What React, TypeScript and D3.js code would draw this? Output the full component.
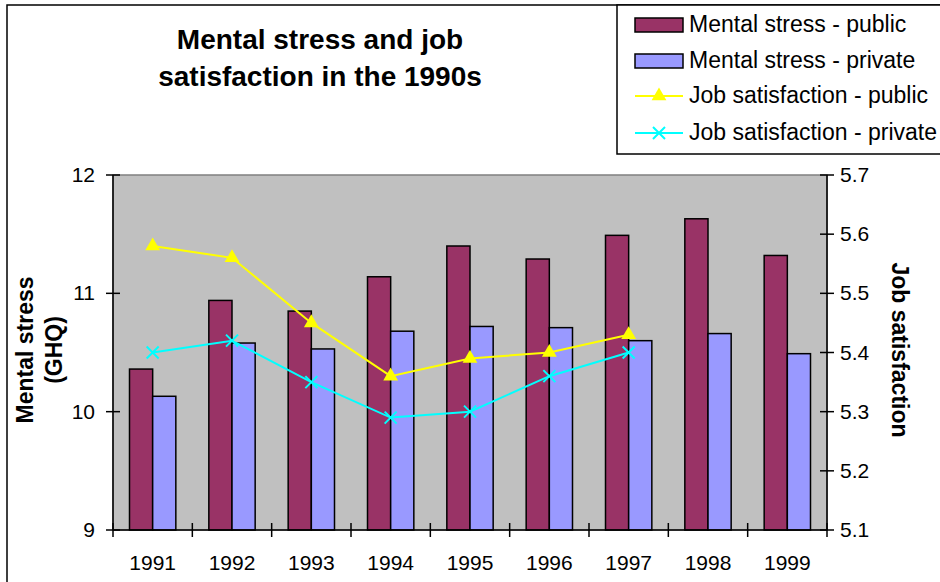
import React from "react";
import * as d3 from "d3";

const years = ["1991", "1992", "1993", "1994", "1995", "1996", "1997", "1998", "1999"];
const stressPublic = [10.36, 10.94, 10.85, 11.14, 11.4, 11.29, 11.49, 11.63, 11.32];
const stressPrivate = [10.13, 10.58, 10.53, 10.68, 10.72, 10.71, 10.6, 10.66, 10.49];
const jobYears = ["1991", "1992", "1993", "1994", "1995", "1996", "1997"];
const jobPublic = [5.58, 5.56, 5.45, 5.36, 5.39, 5.4, 5.43];
const jobPrivate = [5.4, 5.42, 5.35, 5.29, 5.3, 5.36, 5.4];
const leftTicks = [9, 10, 11, 12];
const rightTicks = [5.1, 5.2, 5.3, 5.4, 5.5, 5.6, 5.7];
const seriesNames = ["Mental stress - public", "Mental stress - private", "Job satisfaction - public", "Job satisfaction - private"];

const W = 940;
const H = 582;
const plot = { left: 113, right: 827, top: 175, bottom: 530 };
const FONT = "'Liberation Sans', Arial, sans-serif";
const C_PUB = "#993366";
const C_PRI = "#9999FF";
const C_YEL = "#FFFF00";
const C_CYA = "#00FFFF";

function xMark(cx: number, cy: number, r: number) {
  return `M${cx - r},${cy - r}L${cx + r},${cy + r}M${cx - r},${cy + r}L${cx + r},${cy - r}`;
}

export default function App() {
  const x0 = d3.scaleBand<string>().domain(years).range([plot.left, plot.right]).padding(0);
  const bw = x0.bandwidth();
  const x1 = d3.scaleBand<string>().domain(["pub", "pri"]).range([bw * 0.208, bw * 0.792]).padding(0);
  const yL = d3.scaleLinear().domain([9, 12]).range([plot.bottom, plot.top]);
  const yR = d3.scaleLinear().domain([5.1, 5.7]).range([plot.bottom, plot.top]);
  const cx = (yr: string) => (x0(yr) as number) + bw / 2;

  const line = d3
    .line<[string, number]>()
    .x((d) => cx(d[0]))
    .y((d) => yR(d[1]));
  const pubPts: [string, number][] = jobYears.map((y, i) => [y, jobPublic[i]]);
  const priPts: [string, number][] = jobYears.map((y, i) => [y, jobPrivate[i]]);
  const tri = d3.symbol().type(d3.symbolTriangle).size(95);

  const boundaries = d3.range(years.length + 1).map((i) => plot.left + i * bw);

  const legendX = 635;
  const legendRows = [25, 61, 96, 133];

  return (
    <svg width={W} height={H} style={{ position: "absolute", left: 0, top: 0, background: "#fff" }} fontFamily={FONT}>
      {/* outer border */}
      <rect x={7} y={5} width={W + 20} height={H + 20} fill="#fff" stroke="#000" strokeWidth={1.5} />

      {/* title */}
      <text x={320} y={49} textAnchor="middle" fontSize={28} fontWeight="bold">Mental stress and job</text>
      <text x={320} y={86} textAnchor="middle" fontSize={28} fontWeight="bold">satisfaction in the 1990s</text>

      {/* plot background */}
      <rect x={plot.left} y={plot.top} width={plot.right - plot.left} height={plot.bottom - plot.top} fill="#C0C0C0" stroke="#808080" strokeWidth={1.5} />

      {/* bars */}
      {years.map((yr, i) => (
        <g key={yr}>
          <rect x={(x0(yr) as number) + (x1("pub") as number)} y={yL(stressPublic[i])} width={x1.bandwidth()} height={yL(9) - yL(stressPublic[i])} fill={C_PUB} stroke="#000" strokeWidth={1.5} />
          <rect x={(x0(yr) as number) + (x1("pri") as number)} y={yL(stressPrivate[i])} width={x1.bandwidth()} height={yL(9) - yL(stressPrivate[i])} fill={C_PRI} stroke="#000" strokeWidth={1.5} />
        </g>
      ))}

      {/* lines */}
      <path d={line(pubPts) || ""} fill="none" stroke={C_YEL} strokeWidth={2} />
      <path d={line(priPts) || ""} fill="none" stroke={C_CYA} strokeWidth={2} />
      {pubPts.map((d) => (
        <path key={"t" + d[0]} d={tri() || ""} transform={`translate(${cx(d[0])},${yR(d[1])})`} fill={C_YEL} />
      ))}
      {priPts.map((d) => (
        <path key={"x" + d[0]} d={xMark(cx(d[0]), yR(d[1]), 6)} fill="none" stroke={C_CYA} strokeWidth={2} />
      ))}

      {/* axes */}
      <line x1={plot.left} x2={plot.left} y1={plot.top} y2={plot.bottom} stroke="#000" strokeWidth={1.5} />
      <line x1={plot.right} x2={plot.right} y1={plot.top} y2={plot.bottom} stroke="#000" strokeWidth={1.5} />
      <line x1={plot.left} x2={plot.right} y1={plot.bottom} y2={plot.bottom} stroke="#000" strokeWidth={1.5} />
      {leftTicks.map((t) => (
        <g key={"l" + t}>
          <line x1={plot.left - 7} x2={plot.left + 7} y1={yL(t)} y2={yL(t)} stroke="#000" strokeWidth={1.5} />
          <text x={95} y={yL(t) + 7} textAnchor="end" fontSize={21}>{t}</text>
        </g>
      ))}
      {rightTicks.map((t) => (
        <g key={"r" + t}>
          <line x1={plot.right - 7} x2={plot.right + 7} y1={yR(t)} y2={yR(t)} stroke="#000" strokeWidth={1.5} />
          <text x={840} y={yR(t) + 7} textAnchor="start" fontSize={21}>{d3.format(".1f")(t)}</text>
        </g>
      ))}
      {boundaries.map((bx, i) => (
        <line key={"b" + i} x1={bx} x2={bx} y1={plot.bottom - 7} y2={plot.bottom + 7} stroke="#000" strokeWidth={1.5} />
      ))}
      {years.map((yr) => (
        <text key={"xl" + yr} x={cx(yr)} y={570} textAnchor="middle" fontSize={21}>{yr}</text>
      ))}

      {/* axis titles */}
      <g transform="translate(33,350) rotate(-90)">
        <text x={0} y={0} textAnchor="middle" fontSize={23} fontWeight="bold">Mental stress</text>
      </g>
      <g transform="translate(62,350) rotate(-90)">
        <text x={0} y={0} textAnchor="middle" fontSize={23} fontWeight="bold">(GHQ)</text>
      </g>
      <g transform="translate(892,350) rotate(90)">
        <text x={0} y={0} textAnchor="middle" fontSize={23} fontWeight="bold">Job satisfaction</text>
      </g>

      {/* legend */}
      <rect x={617} y={5} width={340} height={149} fill="#fff" stroke="#000" strokeWidth={1.5} />
      <rect x={legendX} y={legendRows[0] - 7} width={48} height={14} fill={C_PUB} stroke="#000" strokeWidth={1.5} />
      <rect x={legendX} y={legendRows[1] - 7} width={48} height={14} fill={C_PRI} stroke="#000" strokeWidth={1.5} />
      <line x1={legendX} x2={legendX + 48} y1={legendRows[2]} y2={legendRows[2]} stroke={C_YEL} strokeWidth={2} />
      <path d={tri() || ""} transform={`translate(${legendX + 24},${legendRows[2]})`} fill={C_YEL} />
      <line x1={legendX} x2={legendX + 48} y1={legendRows[3]} y2={legendRows[3]} stroke={C_CYA} strokeWidth={2} />
      <path d={xMark(legendX + 24, legendRows[3], 6)} fill="none" stroke={C_CYA} strokeWidth={2} />
      {seriesNames.map((n, i) => (
        <text key={n} x={689} y={legendRows[i] + 7} fontSize={23}>{n}</text>
      ))}
    </svg>
  );
}
